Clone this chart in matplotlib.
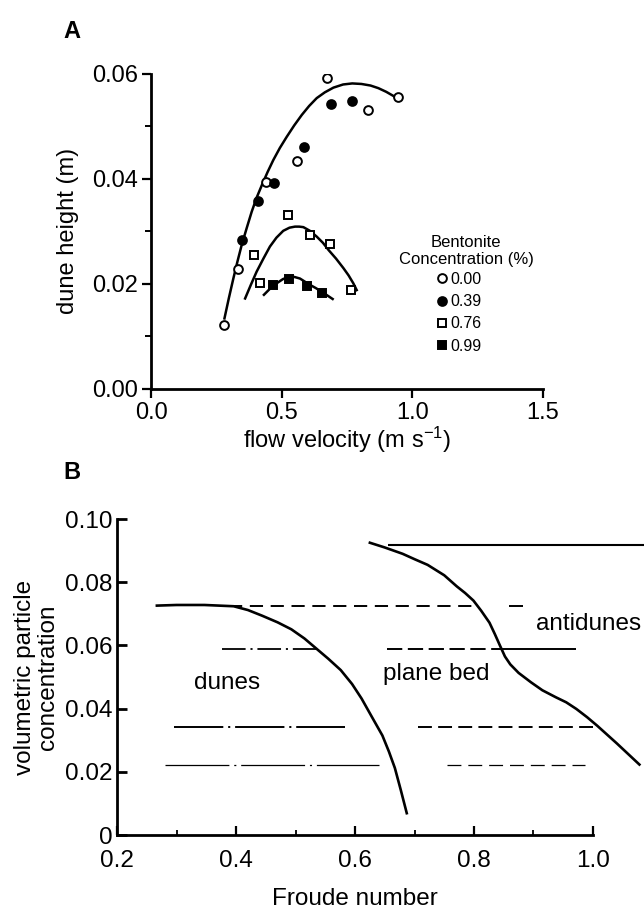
import numpy as np
import matplotlib
matplotlib.use('Agg')
import matplotlib.pyplot as plt

plt.rcParams['font.family'] = ['Liberation Sans', 'DejaVu Sans']
plt.rcParams['mathtext.default'] = 'regular'
plt.rcParams['lines.scale_dashes'] = False

# ---- panel A: dune height vs flow velocity, per bentonite concentration
conc_labels = ['0.00', '0.39', '0.76', '0.99']

v_000 = [0.281, 0.334, 0.439, 0.558, 0.672, 0.831, 0.946]
h_000 = [0.0121, 0.0228, 0.0394, 0.0435, 0.0592, 0.0532, 0.0556]
v_039 = [0.347, 0.411, 0.471, 0.586, 0.688, 0.768]
h_039 = [0.0284, 0.0357, 0.0392, 0.0461, 0.0542, 0.0549]
v_076 = [0.394, 0.417, 0.526, 0.609, 0.685, 0.765]
h_076 = [0.0254, 0.0201, 0.0331, 0.0293, 0.0276, 0.0189]
v_099 = [0.468, 0.528, 0.598, 0.656]
h_099 = [0.0198, 0.0210, 0.0196, 0.0183]

# fitted trend curves as drawn in the figure
fit_low_v = [0.281, 0.298, 0.315, 0.331, 0.347, 0.366, 0.385, 0.404, 0.424, 0.446, 0.468, 0.493,
             0.519, 0.548, 0.577, 0.605, 0.634, 0.665, 0.698, 0.735, 0.77, 0.805, 0.84, 0.87, 0.90, 0.928, 0.953]
fit_low_h = [0.0134, 0.0173, 0.0210, 0.0243, 0.0274, 0.0306, 0.0337, 0.0364, 0.0388, 0.0413, 0.0436, 0.0459,
             0.0480, 0.0502, 0.0522, 0.0539, 0.0554, 0.0565, 0.0574, 0.0580, 0.0582, 0.0581, 0.0578, 0.0573, 0.0566, 0.0558, 0.0550]
fit_076_v = [0.360, 0.382, 0.404, 0.430, 0.455, 0.480, 0.506, 0.530, 0.551, 0.567, 0.583, 0.608, 0.634,
             0.658, 0.680, 0.708, 0.736, 0.756, 0.774, 0.787]
fit_076_h = [0.0172, 0.0198, 0.0223, 0.0248, 0.0271, 0.0288, 0.0301, 0.0307, 0.0309, 0.0309, 0.0308, 0.0301,
             0.0290, 0.0278, 0.0264, 0.0248, 0.0230, 0.0216, 0.0201, 0.0188]
fit_099_v = [0.432, 0.456, 0.481, 0.505, 0.528, 0.549, 0.570, 0.589, 0.608, 0.630, 0.653, 0.674, 0.695]
fit_099_h = [0.0179, 0.0191, 0.0201, 0.0209, 0.0213, 0.0213, 0.0210, 0.0204, 0.0198, 0.0192, 0.0185, 0.0178, 0.0171]

# ---- panel B: bedform regime boundaries
dune_fr = [0.267, 0.30, 0.347, 0.396, 0.42, 0.444, 0.47, 0.493, 0.515, 0.535, 0.555, 0.576, 0.595,
           0.611, 0.628, 0.646, 0.657, 0.667, 0.677, 0.687]
dune_c = [0.0726, 0.0728, 0.0728, 0.0724, 0.0712, 0.0694, 0.0673, 0.0651, 0.0622, 0.0590, 0.0558, 0.0522, 0.0478,
          0.0432, 0.0375, 0.0315, 0.0264, 0.0212, 0.0142, 0.0069]
anti_fr = [0.625, 0.650, 0.680, 0.700, 0.722, 0.750, 0.771, 0.785, 0.799, 0.812, 0.826, 0.835, 0.844, 0.852,
           0.861, 0.875, 0.896, 0.915, 0.9375, 0.955, 0.972, 0.990, 1.007, 1.04, 1.078]
anti_c = [0.0925, 0.0910, 0.0890, 0.0873, 0.0855, 0.0822, 0.0787, 0.0766, 0.0742, 0.0710, 0.0672, 0.0636, 0.0598, 0.0565,
          0.0540, 0.0513, 0.0483, 0.0458, 0.0436, 0.0420, 0.0399, 0.0373, 0.0346, 0.0290, 0.0223]

# horizontal experiment runs: level, start, end
run_c = [0.0918, 0.0726, 0.0726, 0.0588, 0.0588, 0.0588, 0.0343, 0.0343, 0.0220, 0.0220]
run_x0 = [0.656, 0.388, 0.858, 0.377, 0.654, 0.844, 0.295, 0.706, 0.280, 0.754]
run_x1 = [1.10, 0.800, 0.883, 0.535, 0.844, 0.971, 0.583, 1.006, 0.640, 0.986]
run_style = [
    dict(lw=1.5, ls='-'),
    dict(lw=1.4, dashes=(9.5, 5.5)),
    dict(lw=1.4, ls='-'),
    dict(lw=1.3, dashes=(17, 3.5, 1.5, 3.5)),
    dict(lw=1.4, dashes=(11, 4)),
    dict(lw=1.4, ls='-'),
    dict(lw=1.4, dashes=(35.5, 3.5, 1.5, 3.5)),
    dict(lw=1.4, dashes=(10, 4.5)),
    dict(lw=0.9, dashes=(46, 3.5, 1.5, 3.5)),
    dict(lw=0.9, dashes=(10, 5)),
]

fig = plt.figure(figsize=(6.44, 9.09), dpi=100)

# ================= A =================
fs_a = 17
ax = fig.add_axes([0.2345, 0.5724, 0.6087, 0.3462])
ax.plot(fit_low_v, fit_low_h, color='black', lw=1.8, zorder=2)
ax.plot(fit_076_v, fit_076_h, color='black', lw=1.8, zorder=2)
ax.plot(fit_099_v, fit_099_h, color='black', lw=1.8, zorder=2)

mk = dict(ls='none', markersize=6.3, markeredgecolor='black', markeredgewidth=1.4, zorder=3)
h1, = ax.plot(v_000, h_000, 'o', markerfacecolor='white', label=conc_labels[0], **mk)
h2, = ax.plot(v_039, h_039, 'o', markerfacecolor='black', label=conc_labels[1], **mk)
h3, = ax.plot(v_076, h_076, 's', markerfacecolor='white', label=conc_labels[2], **mk)
h4, = ax.plot(v_099, h_099, 's', markerfacecolor='black', label=conc_labels[3], **mk)

ax.set_xlim(0, 1.5)
ax.set_ylim(0, 0.06)
ax.set_xticks([0.0, 0.5, 1.0, 1.5])
ax.set_xticklabels(['0.0', '0.5', '1.0', '1.5'])
ax.set_yticks([0.0, 0.02, 0.04, 0.06])
ax.set_yticklabels(['0.00', '0.02', '0.04', '0.06'])
ax.set_yticks([0.01, 0.03, 0.05], minor=True)
for s in ['top', 'right']:
    ax.spines[s].set_visible(False)
for s in ['left', 'bottom']:
    ax.spines[s].set_linewidth(2)
ax.tick_params(which='major', direction='out', length=6.5, width=1.6, labelsize=fs_a, pad=3)
ax.tick_params(which='minor', direction='out', length=4, width=1.4)
ax.set_xlabel('flow velocity (m s$^{-1}$)', fontsize=fs_a, labelpad=1)
ax.set_ylabel('dune height (m)', fontsize=fs_a, labelpad=9)

fig.text(466 / 644, 1 - 251 / 909, 'Bentonite\nConcentration (%)', fontsize=12,
         ha='center', va='center', linespacing=1.12)
leg = ax.legend(handles=[h1, h2, h3, h4], loc='upper left',
                bbox_to_anchor=(437 / 644, 1 - 272 / 909),
                bbox_transform=fig.transFigure, frameon=False, fontsize=11.5,
                handlelength=0.6, handletextpad=0.25,
                labelspacing=0.45, borderpad=0, borderaxespad=0)

fig.text(0.112, 0.965, 'A', fontsize=17, fontweight='bold', ha='center', va='center')

# ================= B =================
fs_b = 17.5
bx = fig.add_axes([0.1817, 0.0814, 0.7391, 0.3476])
bx.plot(dune_fr, dune_c, color='black', lw=1.9, clip_on=False)
bx.plot(anti_fr, anti_c, color='black', lw=1.9, clip_on=False)
for c, x0, x1, st in zip(run_c, run_x0, run_x1, run_style):
    bx.plot([x0, x1], [c, c], color='black', clip_on=False, solid_capstyle='butt',
            dash_capstyle='butt', **st)

bx.text(0.385, 0.048, 'dunes', fontsize=fs_b, ha='center', va='center')
bx.text(0.736, 0.0508, 'plane bed', fontsize=fs_b, ha='center', va='center')
bx.text(0.993, 0.0669, 'antidunes', fontsize=fs_b, ha='center', va='center', clip_on=False)

bx.set_xlim(0.2, 1.0)
bx.set_ylim(0, 0.10)
bx.set_xticks([0.2, 0.4, 0.6, 0.8, 1.0])
bx.set_xticklabels(['0.2', '0.4', '0.6', '0.8', '1.0'])
bx.set_xticks([0.3, 0.5, 0.7, 0.9], minor=True)
bx.set_yticks([0, 0.02, 0.04, 0.06, 0.08, 0.10])
bx.set_yticklabels(['0', '0.02', '0.04', '0.06', '0.08', '0.10'])
for s in ['top', 'right']:
    bx.spines[s].set_visible(False)
for s in ['left', 'bottom']:
    bx.spines[s].set_linewidth(2)
bx.tick_params(axis='x', which='major', direction='in', length=6.5, width=1.6, labelsize=fs_b, pad=11)
bx.tick_params(axis='x', which='minor', direction='in', length=3.5, width=1.3)
bx.tick_params(axis='y', which='major', direction='in', length=7, width=2, labelsize=fs_b, pad=3.5)
bx.set_xlabel('Froude number', fontsize=fs_b, labelpad=11)
bx.set_ylabel('volumetric particle\nconcentration', fontsize=fs_b, labelpad=4, linespacing=1.07)

fig.text(0.112, 0.480, 'B', fontsize=17, fontweight='bold', ha='center', va='center')

fig.savefig('out.png', dpi=100)
